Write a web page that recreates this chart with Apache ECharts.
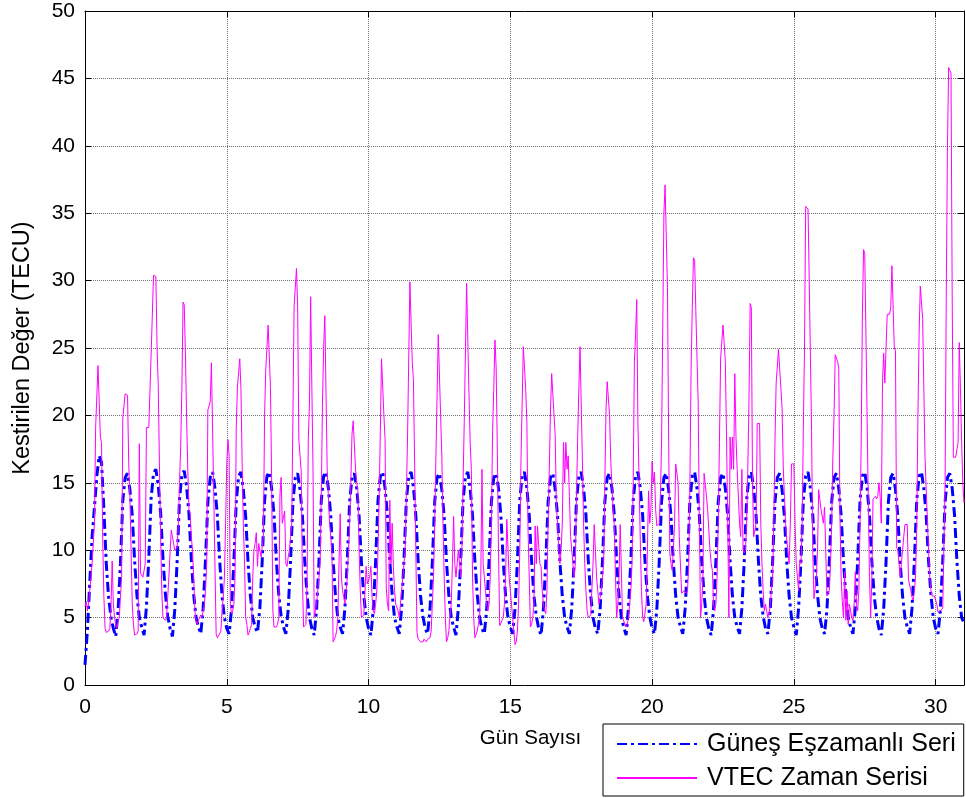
<!DOCTYPE html>
<html>
<head>
<meta charset="utf-8">
<script src="https://cdn.jsdelivr.net/npm/echarts@6/dist/echarts.min.js"></script>
<style>html,body{margin:0;padding:0;background:#fff;}#c{width:966px;height:798px;}</style>
</head>
<body>
<div id="c"></div>
<script>
// ---------- data ----------
const seriesNames = ['Güneş Eşzamanlı Seri', 'VTEC Zaman Serisi'];
const xTicks = [0, 5, 10, 15, 20, 25, 30];
const yTicks = [0, 5, 10, 15, 20, 25, 30, 35, 40, 45, 50];

// Güneş Eşzamanlı Seri: 12 samples per day (every 2 hours), TECU
const sunByDay = [
 [1.5, 4.0, 7.5, 11.0, 13.2, 15.5, 17.0, 16.5, 13.0, 9.0, 6.5, 5.0],
 [4.2, 3.6, 5.5, 9.0, 13.7, 15.4, 15.7, 14.5, 12.6, 9.2, 6.6, 5.0],
 [4.3, 3.7, 5.8, 9.4, 13.9, 15.7, 16.0, 14.8, 12.8, 9.4, 6.8, 5.1],
 [4.2, 3.6, 5.6, 9.2, 13.8, 15.6, 15.9, 14.7, 12.7, 9.3, 6.7, 5.0],
 [4.3, 3.8, 5.7, 9.3, 13.6, 15.4, 15.8, 14.6, 12.6, 9.2, 6.6, 5.0],
 [4.2, 3.8, 5.6, 9.1, 13.6, 15.5, 15.8, 14.5, 12.5, 9.1, 6.6, 5.0],
 [4.3, 3.9, 5.7, 9.2, 13.7, 15.5, 15.8, 14.6, 12.6, 9.2, 6.7, 5.1],
 [4.3, 3.8, 5.6, 9.2, 13.6, 15.4, 15.7, 14.5, 12.6, 9.2, 6.6, 5.0],
 [4.2, 3.7, 5.6, 9.1, 13.7, 15.5, 15.8, 14.6, 12.6, 9.2, 6.6, 5.0],
 [4.3, 3.8, 5.7, 9.2, 13.6, 15.4, 15.7, 14.6, 12.5, 9.1, 6.6, 5.0],
 [4.2, 3.7, 5.6, 9.2, 13.7, 15.5, 15.8, 14.6, 12.6, 9.2, 6.7, 5.0],
 [4.3, 3.8, 5.7, 9.3, 13.7, 15.5, 15.8, 14.7, 12.6, 9.2, 6.6, 5.1],
 [4.2, 3.8, 5.6, 9.1, 13.6, 15.4, 15.7, 14.5, 12.5, 9.1, 6.6, 5.0],
 [4.3, 3.7, 5.7, 9.2, 13.7, 15.5, 15.8, 14.6, 12.6, 9.2, 6.7, 5.0],
 [4.2, 3.8, 5.6, 9.2, 13.6, 15.4, 15.7, 14.6, 12.6, 9.2, 6.6, 5.0],
 [4.3, 3.8, 5.7, 9.2, 13.7, 15.5, 15.8, 14.6, 12.6, 9.2, 6.6, 5.1],
 [4.2, 3.7, 5.6, 9.1, 13.6, 15.4, 15.7, 14.5, 12.5, 9.1, 6.6, 5.0],
 [4.3, 3.8, 5.7, 9.2, 13.7, 15.5, 15.8, 14.6, 12.6, 9.2, 6.7, 5.0],
 [4.2, 3.8, 5.6, 9.2, 13.6, 15.4, 15.7, 14.6, 12.6, 9.2, 6.6, 5.0],
 [4.3, 3.7, 5.7, 9.2, 13.7, 15.5, 15.8, 14.6, 12.6, 9.2, 6.6, 5.1],
 [4.2, 3.8, 5.6, 9.1, 13.6, 15.4, 15.7, 14.5, 12.5, 9.1, 6.6, 5.0],
 [4.3, 3.8, 5.7, 9.2, 13.7, 15.5, 15.8, 14.6, 12.6, 9.2, 6.7, 5.0],
 [4.2, 3.7, 5.6, 9.2, 13.6, 15.4, 15.7, 14.6, 12.6, 9.2, 6.6, 5.0],
 [4.3, 3.8, 5.7, 9.2, 13.7, 15.5, 15.8, 14.6, 12.6, 9.2, 6.6, 5.1],
 [4.2, 3.8, 5.6, 9.1, 13.6, 15.4, 15.7, 14.5, 12.5, 9.1, 6.6, 5.0],
 [4.3, 3.7, 5.7, 9.2, 13.7, 15.5, 15.8, 14.6, 12.6, 9.2, 6.7, 5.0],
 [4.2, 3.8, 5.6, 9.2, 13.6, 15.4, 15.7, 14.6, 12.6, 9.2, 6.6, 5.0],
 [4.3, 3.8, 5.7, 9.2, 13.7, 15.5, 15.8, 14.6, 12.6, 9.2, 6.6, 5.1],
 [4.2, 3.7, 5.6, 9.1, 13.6, 15.4, 15.7, 14.5, 12.5, 9.1, 6.6, 5.0],
 [4.3, 3.8, 5.7, 9.2, 13.7, 15.5, 15.8, 14.6, 12.6, 9.2, 6.7, 5.0],
 [4.2, 3.8, 5.6, 9.2, 13.6, 15.4, 15.7, 14.6, 12.6, 9.2, 6.6, 5.0]
];
const sunLast = 4.6;

// VTEC Zaman Serisi: 24 samples per day (hourly), TECU
const vtecByDay = [
 [5.8, 6.2, 5.5, 6.0, 7.0, 8.0, 9.0, 10.5, 12.0, 19.1, 19.2, 23.7, 23.6, 18.4, 18.0, 10.7, 6.5, 4.2, 3.9, 3.8, 4.0, 4.2, 5.8, 9.2],
 [6.0, 5.0, 4.5, 4.2, 4.8, 5.0, 6.5, 8.0, 19.8, 19.8, 21.6, 21.6, 21.5, 16.5, 14.0, 10.0, 6.0, 4.5, 3.7, 3.7, 3.8, 4.0, 17.9, 8.3],
 [8.3, 8.0, 8.5, 9.0, 19.1, 19.1, 19.1, 19.1, 24.6, 24.6, 30.4, 30.5, 30.3, 25.0, 22.2, 16.4, 11.0, 7.0, 5.0, 5.0, 4.8, 5.0, 6.5, 8.0],
 [8.0, 11.5, 11.0, 10.5, 10.0, 10.0, 10.2, 12.0, 15.0, 17.7, 22.0, 28.4, 28.2, 24.6, 19.8, 16.0, 13.0, 12.7, 11.0, 10.0, 8.0, 5.5, 4.8, 4.5],
 [4.8, 5.0, 5.2, 5.0, 5.5, 6.0, 7.0, 9.0, 20.4, 20.4, 21.0, 23.9, 23.8, 14.0, 14.0, 3.8, 3.5, 3.6, 3.8, 4.0, 5.5, 6.5, 8.0, 12.0],
 [16.5, 18.2, 17.0, 6.0, 5.3, 5.5, 6.0, 8.0, 19.0, 22.1, 22.1, 24.2, 22.0, 16.5, 12.0, 9.2, 5.0, 4.5, 3.7, 3.9, 4.2, 4.5, 8.0, 10.0],
 [10.5, 11.3, 8.8, 10.5, 10.0, 9.5, 9.5, 11.0, 20.0, 23.4, 23.4, 26.7, 26.7, 22.0, 15.0, 5.5, 4.3, 4.3, 4.3, 4.5, 5.0, 14.1, 15.4, 12.0],
 [12.0, 12.9, 9.0, 8.8, 9.5, 10.0, 11.0, 12.0, 20.0, 28.1, 28.1, 30.9, 28.0, 18.2, 17.0, 15.9, 8.0, 4.3, 4.3, 4.5, 8.0, 18.2, 20.9, 28.8],
 [22.2, 16.0, 5.0, 5.5, 6.0, 7.0, 8.0, 9.0, 14.0, 20.9, 25.0, 27.4, 27.4, 16.0, 14.0, 12.0, 11.0, 10.0, 3.2, 3.4, 3.6, 4.0, 5.0, 9.0],
 [12.7, 8.0, 7.0, 6.5, 6.0, 7.0, 8.0, 10.0, 12.0, 15.0, 18.6, 19.6, 19.6, 16.0, 15.0, 14.4, 10.0, 7.0, 5.0, 5.0, 5.2, 5.3, 8.8, 7.5],
 [7.5, 8.0, 8.8, 6.5, 5.5, 5.3, 6.0, 7.0, 10.0, 14.0, 18.9, 24.2, 24.2, 20.0, 18.2, 7.2, 6.0, 5.5, 13.7, 9.0, 12.0, 8.8, 7.0, 6.0],
 [6.0, 5.5, 5.0, 6.0, 7.0, 8.0, 9.0, 10.0, 14.0, 18.4, 18.4, 29.9, 29.9, 24.0, 22.6, 16.4, 10.0, 3.9, 3.4, 3.3, 3.2, 3.3, 3.2, 3.4],
 [3.3, 3.2, 3.4, 3.3, 3.5, 4.0, 6.0, 8.0, 12.0, 16.9, 16.9, 26.0, 26.0, 20.0, 17.0, 12.0, 8.0, 5.0, 3.2, 3.5, 4.0, 5.2, 6.0, 9.0],
 [12.5, 9.0, 8.0, 9.0, 10.0, 9.0, 8.0, 10.0, 15.0, 19.5, 19.5, 29.8, 29.8, 21.6, 18.0, 16.0, 8.0, 5.0, 3.5, 3.6, 4.0, 4.5, 5.0, 8.0],
 [16.0, 9.0, 8.0, 7.0, 6.0, 5.5, 6.0, 8.0, 12.0, 18.9, 22.0, 25.6, 23.6, 17.5, 10.0, 4.4, 4.5, 4.8, 5.0, 6.0, 8.0, 12.3, 12.3, 8.0],
 [8.0, 6.0, 5.0, 4.0, 3.0, 3.2, 4.0, 6.0, 10.0, 16.6, 16.6, 25.1, 25.1, 22.0, 19.5, 11.5, 8.0, 4.3, 4.5, 5.0, 6.0, 11.8, 9.0, 11.8],
 [11.8, 9.0, 8.8, 7.0, 6.0, 5.5, 5.3, 7.0, 12.0, 16.0, 20.4, 23.1, 23.0, 20.0, 18.5, 13.2, 12.0, 10.0, 9.0, 10.0, 12.0, 18.0, 15.0, 18.0],
 [16.0, 17.0, 14.0, 11.0, 10.0, 9.0, 8.0, 9.0, 14.0, 18.3, 22.0, 25.1, 25.0, 16.7, 12.0, 9.0, 7.0, 5.5, 5.0, 5.0, 5.2, 7.0, 9.0, 11.9],
 [11.9, 8.0, 7.0, 6.0, 6.5, 7.0, 8.0, 9.0, 15.0, 20.4, 22.5, 22.5, 20.0, 16.7, 16.7, 13.0, 11.9, 8.0, 5.0, 6.0, 8.0, 11.9, 11.9, 5.0],
 [5.0, 4.5, 4.3, 4.5, 5.0, 6.0, 7.0, 9.0, 15.0, 23.9, 26.0, 28.6, 19.5, 15.0, 10.7, 7.0, 5.0, 4.7, 4.8, 6.0, 10.0, 14.4, 12.0, 13.0],
 [16.6, 15.0, 15.8, 13.0, 11.8, 11.8, 12.0, 14.0, 17.9, 18.0, 35.0, 37.1, 37.0, 29.5, 18.4, 9.8, 9.0, 8.5, 10.0, 12.0, 16.4, 16.4, 15.0, 11.0],
 [11.0, 6.8, 6.8, 7.0, 7.0, 6.8, 7.0, 9.0, 15.0, 23.4, 28.0, 31.7, 31.5, 27.8, 27.8, 20.9, 12.0, 5.0, 6.0, 8.0, 15.7, 15.7, 14.0, 13.0],
 [13.0, 10.0, 9.0, 8.5, 6.0, 5.5, 6.0, 8.0, 12.0, 18.0, 24.2, 24.2, 26.7, 26.7, 24.0, 18.4, 12.0, 5.0, 18.4, 16.0, 18.4, 16.0, 23.1, 18.4],
 [16.0, 16.0, 12.0, 11.0, 16.0, 10.0, 9.8, 10.0, 12.0, 16.0, 21.1, 28.3, 28.0, 15.0, 11.0, 11.5, 12.0, 19.4, 19.4, 19.4, 12.0, 9.0, 7.0, 5.5],
 [6.0, 5.5, 5.0, 5.2, 6.0, 7.0, 8.0, 12.0, 18.0, 22.4, 22.4, 24.9, 24.9, 22.0, 20.6, 16.2, 14.0, 12.0, 10.7, 10.0, 9.0, 12.0, 16.4, 16.4],
 [16.4, 12.0, 9.0, 8.0, 7.0, 9.2, 9.0, 12.0, 18.9, 25.0, 35.5, 35.5, 35.3, 30.0, 30.0, 18.8, 10.0, 6.4, 6.5, 8.0, 10.0, 14.5, 14.5, 13.0],
 [13.0, 12.0, 13.2, 13.2, 6.6, 6.6, 7.0, 9.0, 12.0, 16.9, 20.0, 24.5, 24.5, 24.0, 23.5, 12.6, 8.0, 6.2, 5.0, 8.4, 4.8, 7.0, 4.5, 6.0],
 [6.0, 5.0, 4.8, 6.0, 8.4, 6.0, 5.5, 7.0, 12.0, 18.1, 27.5, 32.3, 32.0, 26.0, 26.0, 13.5, 8.0, 5.0, 8.0, 13.8, 13.8, 14.0, 13.8, 14.0],
 [15.0, 14.0, 12.0, 22.4, 24.6, 22.4, 22.4, 27.5, 27.5, 27.5, 28.0, 31.1, 31.0, 25.0, 24.8, 10.2, 10.0, 9.0, 8.0, 9.0, 10.0, 11.0, 11.9, 11.9],
 [11.9, 7.8, 7.8, 7.0, 6.5, 6.3, 7.0, 8.0, 12.0, 20.0, 26.0, 29.6, 29.6, 27.2, 27.2, 16.9, 14.5, 14.5, 10.0, 8.0, 7.0, 6.6, 6.6, 6.6],
 [6.6, 6.0, 5.4, 5.4, 5.5, 5.6, 5.7, 5.7, 15.0, 29.0, 40.0, 45.8, 45.6, 45.4, 29.0, 16.9, 16.9, 16.9, 16.9, 18.0, 25.4, 22.0, 18.0, 15.0]
];
const vtecLast = 13.5;

// ---------- build series data (x = day number) ----------
function toPairs(byDay, last, perDay) {
  const flat = [].concat(...byDay, [last]);
  return flat.map((v, i) => [i / perDay, v]);
}
const sunData = toPairs(sunByDay, sunLast, 12);
const vtecData = toPairs(vtecByDay, vtecLast, 24);

const FONT = 'Liberation Sans, Arial, sans-serif';
const frameAxis = {
  axisLine: { show: true, onZero: false, lineStyle: { color: '#000', width: 1 } },
  axisTick: { show: true, inside: true, length: 6, lineStyle: { color: '#000' } }
};
const gridLine = { show: true, lineStyle: { color: '#707070', type: [1, 1], width: 1 } };

const chart = echarts.init(document.getElementById('c'), null, { renderer: 'canvas' });
chart.setOption({
  animation: false,
  backgroundColor: '#fff',
  textStyle: { fontFamily: FONT },
  grid: { left: 85, right: 2, top: 11, bottom: 113, containLabel: false },
  xAxis: [
    Object.assign({
      type: 'value', min: xTicks[0], max: 31, interval: 5, position: 'bottom',
      axisLabel: { color: '#000', fontSize: 21, margin: 12, fontFamily: FONT, showMaxLabel: false },
      splitLine: gridLine,
      name: 'Gün Sayısı', nameLocation: 'middle', nameGap: 43,
      nameTextStyle: { color: '#000', fontSize: 20.5, fontFamily: FONT, padding: [0, 0, 0, 12] }
    }, frameAxis),
    Object.assign({
      type: 'value', min: xTicks[0], max: 31, interval: 5, position: 'top',
      axisLabel: { show: false }, splitLine: { show: false }
    }, frameAxis)
  ],
  yAxis: [
    Object.assign({
      type: 'value', min: yTicks[0], max: yTicks[yTicks.length - 1], interval: 5, position: 'left',
      axisLabel: { color: '#000', fontSize: 21, margin: 10, fontFamily: FONT },
      splitLine: gridLine,
      name: 'Kestirilen Değer (TECU)', nameLocation: 'middle', nameGap: 50,
      nameTextStyle: { color: '#000', fontSize: 23.5, fontFamily: FONT }
    }, frameAxis),
    Object.assign({
      type: 'value', min: yTicks[0], max: yTicks[yTicks.length - 1], interval: 5, position: 'right',
      axisLabel: { show: false }, splitLine: { show: false }
    }, frameAxis)
  ],
  legend: {
    orient: 'vertical', left: 603, top: 724,
    padding: [7, 8, 5, 13],
    itemWidth: 80, itemHeight: 14, itemGap: 8,
    borderColor: '#000', borderWidth: 1, borderRadius: 0, backgroundColor: '#fff',
    itemStyle: { opacity: 0 },
    textStyle: { fontSize: 25, color: '#000', lineHeight: 26, fontFamily: FONT, padding: [0, 0, 0, 5] },
    data: seriesNames
  },
  series: [
    {
      name: seriesNames[0], type: 'line', data: sunData,
      showSymbol: false, symbol: 'none', sampling: null,
      lineStyle: { color: '#0000ff', width: 3, type: [10, 4, 3, 4] },
      itemStyle: { color: '#0000ff' }, z: 2
    },
    {
      name: seriesNames[1], type: 'line', data: vtecData,
      showSymbol: false, symbol: 'none',
      lineStyle: { color: '#ff00ff', width: 1 },
      itemStyle: { color: '#ff00ff' }, z: 3
    }
  ]
});
</script>
</body>
</html>
